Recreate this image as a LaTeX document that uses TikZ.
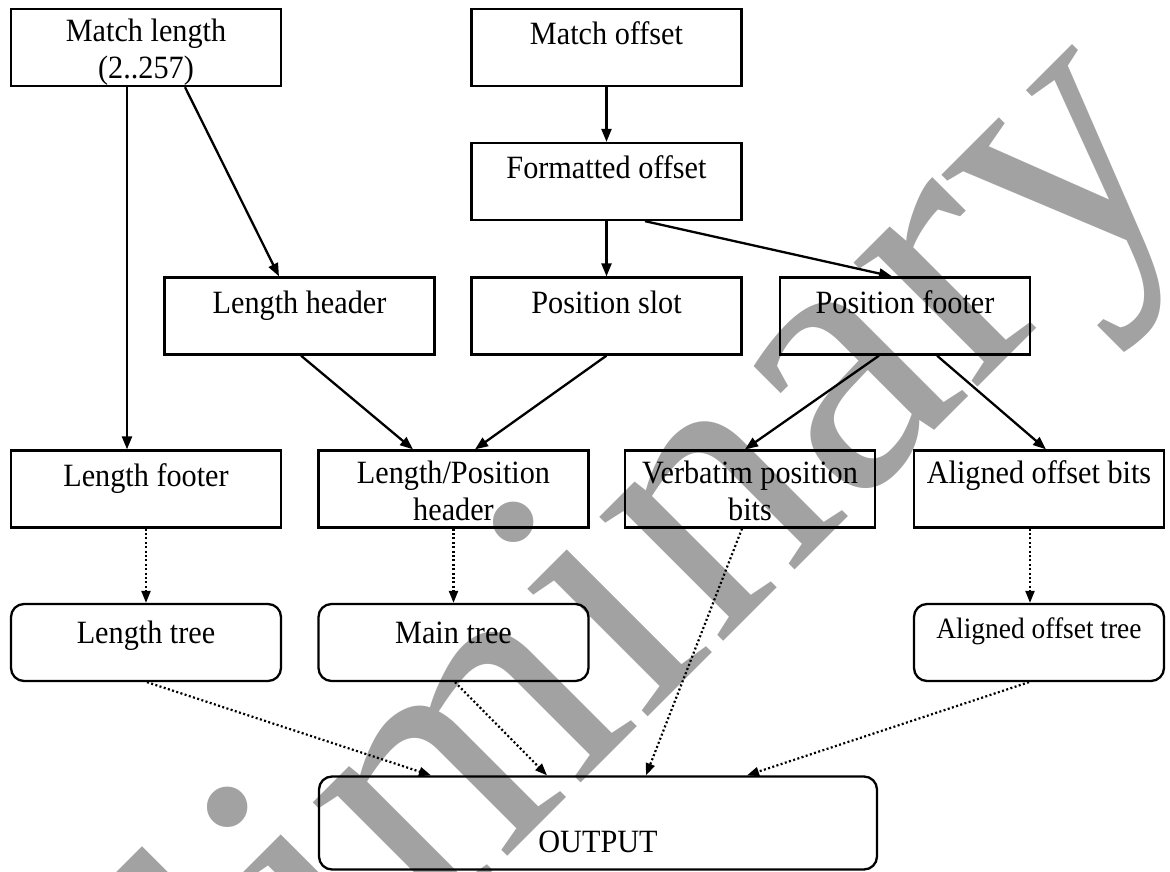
\documentclass[tikz,border=0pt]{standalone}
\usepackage{fontspec}
\setmainfont{Liberation Serif}[FakeStretch=0.93]
\newfontfamily\wmfont{Liberation Serif}
\usetikzlibrary{arrows.meta,calc}
\definecolor{wmgray}{RGB}{162,162,162}
% box text: [first-baseline offset]{box height}{text}
\newcommand{\bt}[3][35pt]{\parbox[c][#2][t]{248pt}{\centering\rule{0pt}{#1}#3}}
\tikzset{
  box/.style={draw, line width=2.3pt, inner sep=0pt, minimum width=270pt, minimum height=77pt,
              font=\fontsize{32.5}{36.6}\selectfont},
  narrow/.style={minimum width=250pt},
  rbox/.style={box, rounded corners=13pt},
  conn/.style={line width=2.3pt, -{Triangle[length=13pt,width=10pt]}},
  dotconn/.style={line width=2.2pt, dash pattern=on 2pt off 2.4pt, -{Triangle[length=12pt,width=9pt]}},
  wmtext/.style={anchor=base west, rotate=45, inner sep=0pt, text=wmgray,
                 font=\wmfont\fontsize{382}{390}\selectfont}
}
\begin{document}
\begin{tikzpicture}[x=1pt,y=-1pt]
\useasboundingbox (0,0) rectangle (1170,871);
\begin{scope}
\clip (0,0) rectangle (1170,871);
\node[wmtext] (wm) at (-78.5,1443) {Preliminary};
\end{scope}

% row 1
\node[box] (ML) at (146,47.5) {\bt[32.5pt]{77pt}{Match length\\(2..257)}};
\node[box] (MO) at (606.5,47.5) {\bt{77pt}{Match offset}};
% row 2
\node[box] (FO) at (606.5,181.5) {\bt{77pt}{Formatted offset}};
% row 3
\node[box] (LH) at (299.5,316) {\bt{76pt}{Length header}};
\node[box] (PS) at (606.5,316) {\bt{76pt}{Position slot}};
\node[box,narrow] (PF) at (905,316) {\bt{76pt}{Position footer}};
% row 4
\node[box] (LF) at (146,489) {\bt{76pt}{Length footer}};
\node[box] (LPH) at (453.5,489) {\bt[32.5pt]{76pt}{Length/Position\\header}};
\node[box,narrow] (VPB) at (750,489) {\bt[32.5pt]{76pt}{Verbatim position\\bits}};
\node[box,narrow] (AOB) at (1039,489) {\bt[32.5pt]{76pt}{Aligned offset bits}};
% row 5
\node[rbox] (LT) at (146,642.5) {\bt[39pt]{77pt}{Length tree}};
\node[rbox] (MT) at (453.5,642.5) {\bt[39pt]{77pt}{Main tree}};
\node[rbox,narrow] (AOT) at (1039,642.5) {\bt[34pt]{77pt}{\fontsize{29.5}{33}\selectfont Aligned offset tree}};
% output
\node[rbox, minimum width=558pt, minimum height=93pt] (OUT) at (598,823) {\bt[76pt]{93pt}{OUTPUT}};

% solid connectors
\draw[conn] ($(ML.south)+(-19,0)$) -- ($(LF.north)+(-19,0)$);
\draw[conn] ($(ML.south)+(39,0)$) -- ($(LH.north)+(-20.5,0)$);
\draw[conn] (MO.south) -- (FO.north);
\draw[conn] (FO.south) -- (PS.north);
\draw[conn] ($(FO.south)+(38.5,0)$) -- ($(PF.north)+(-13,0)$);
\draw[conn] ($(LH.south)+(1.5,0)$) -- ($(LPH.north)+(-40.5,0)$);
\draw[conn] (PS.south) -- ($(LPH.north)+(21.5,0)$);
\draw[conn] ($(PF.south)+(-26,0)$) -- ($(VPB.north)+(-5,0)$);
\draw[conn] ($(PF.south)+(32,0)$) -- ($(AOB.north)+(7,0)$);

% dotted connectors
\draw[dotconn] (LF.south) -- (LT.north);
\draw[dotconn] (LPH.south) -- (MT.north);
\draw[dotconn] ($(AOB.south)+(-9,0)$) -- ($(AOT.north)+(-9,0)$);
\draw[dotconn] ($(LT.south)+(1,0)$) -- ($(OUT.north)+(-167,0)$);
\draw[dotconn] ($(MT.south)+(1.5,0)$) -- ($(OUT.north)+(-51,0)$);
\draw[dotconn] ($(VPB.south)+(-8,0)$) -- ($(OUT.north)+(48,0)$);
\draw[dotconn] ($(AOT.south)+(-10,0)$) -- ($(OUT.north)+(149,0)$);
\end{tikzpicture}
\end{document}
